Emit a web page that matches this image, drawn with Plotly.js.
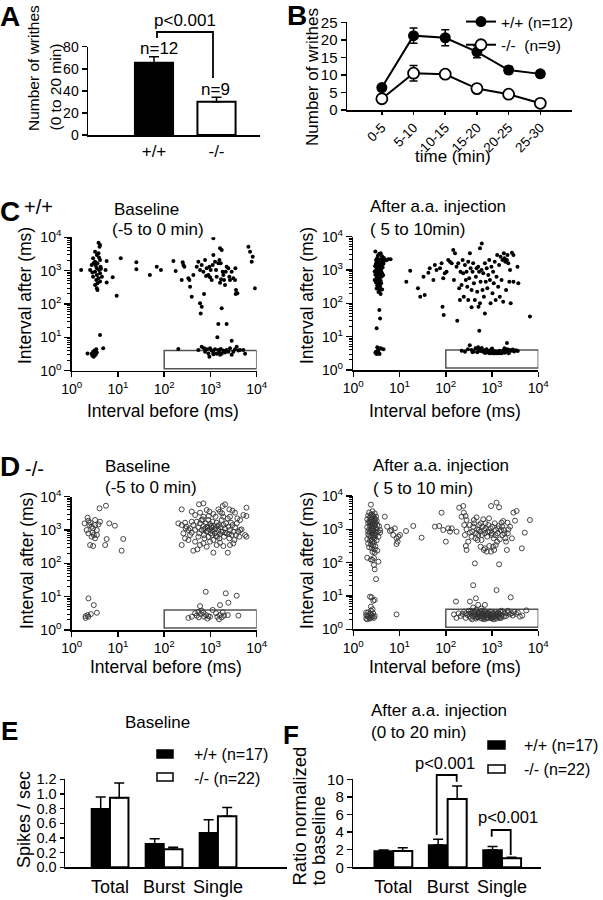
<!DOCTYPE html>
<html><head><meta charset="utf-8">
<script src="https://cdn.plot.ly/plotly-3.0.1.min.js"></script>
<style>html,body{margin:0;padding:0;background:#fff}#plot{width:603px;height:900px}</style>
</head><body><div id="plot"></div>
<script>
// ---------- DATA ----------
// Panel A: writhes 0-20 min
const aGroups = ['+/+', '-/-'];
const aValues = [65.5, 30.2];
const aErr = [5.4, 4.0];
// Panel B: writhes over time
const bCats = ['0-5', '5-10', '10-15', '15-20', '20-25', '25-30'];
const bWT = [6.4, 21.2, 20.6, 16.6, 11.4, 10.3];
const bWTerr = [0.8, 2.2, 2.3, 1.7, 1.0, 0.8];
const bKO = [3.2, 10.5, 10.2, 6.1, 4.5, 1.9];
const bKOerr = [0.5, 2.2, 0.5, 0.8, 0.6, 0.5];
// Panel C: +/+ interval plots (interval before, interval after) in ms
const cBasePts = [[3.8,6900],[4.1,5900],[4.0,5250],[3.2,3700],[3.8,3300],[3.5,2950],[2.9,2350],[4.1,2090],[3.2,1860],[3.6,1660],[2.7,1480],[4.2,1320],[3.5,1175],[2.5,1050],[3.9,1050],[3.2,930],[4.1,830],[3.5,740],[2.9,660],[3.8,590],[3.4,525],[4.1,470],[3.6,420],[3.2,370],[3.5,295],[3.6,263],[1.6,1050],[5.7,1950],[5.4,1050],[4.5,660],[7.7,630],[5.7,440],[9.4,178],[11.5,2340],[25,1780],[25,1100],[49,740],[69,1320],[85,1050],[158,1950],[177,980],[3.0,1700],[3.9,2500],[3.3,1400],[4.3,1150],[2.8,880],
[333,589],[362,331],[394,166],[350,525],[427,741],[505,1318],[548,1862],[595,1047],[647,1479],[703,933],[727,200],[764,2089],[830,1175],[902,741],[980,631],[948,1318],[1012,1047],[1064,525],[1156,2951],[1119,1479],[1256,1862],[1321,1047],[1365,661],[1483,1660],[1560,2089],[1612,4677],[1667,1660],[1750,4169],[1841,933],[1901,741],[1967,525],[2066,372],[2138,933],[2244,1318],[2438,1175],[2564,661],[2649,525],[2878,933],[3126,589],[3404,525],[3573,263],[3819,210],[3459,1175],[1694,550],[1612,437],[803,692],[1156,9330],[6607,5248],[7177,3715],[8199,2630],[7798,1862],[9204,295],[3515,200],[251,1778],[273,1318],[239,525],[260,1479],
[595,105],[647,83],[615,52],[1750,74],[1480,25],[2240,25],[1410,10],[2880,7.9],
[202,4.5],[548,4.2],[647,5.2],[764,3.7],[830,4.4],[902,3.3],[980,4.7],[1064,4.0],[1156,3.5],[1256,4.4],[1365,3.2],[1483,4.2],[1560,3.7],[1667,4.5],[1750,3.2],[1901,4.0],[2066,3.5],[2244,4.2],[2438,3.7],[2649,4.7],[2878,3.0],[3126,3.7],[3404,4.4],[3698,5.2],[4016,4.0],[4363,4.2],[5150,4.2],[5598,3.2],[948,2.6],[1156,3.1],[1612,3.0],[727,4.7],
[2.2,3.3],[2.7,3.2],[2.9,3.7],[3.1,4.0],[3.2,3.3],[3.3,3.0],[3.5,3.5],[2.8,2.8],[3.4,4.4],[3.0,2.6],[4.1,11.7],[4.8,4.7]];
const cAfterPts = [[3.0,3600],[3.6,3000],[4.2,2600],[3.3,2300],[3.9,2100],[3.1,2000],[4.4,1900],[3.5,1800],[3.8,1700],[3.2,1650],[4.0,1600],[3.6,1500],[3.4,1450],[4.1,1400],[3.0,1300],[3.7,1250],[4.3,1200],[3.3,1150],[3.9,1100],[3.5,1050],[3.1,1000],[4.0,950],[3.6,900],[3.3,850],[4.2,800],[3.8,760],[3.0,720],[3.5,680],[4.1,640],[3.2,600],[3.7,560],[3.4,520],[3.9,480],[3.6,450],[3.1,420],[4.0,400],[3.5,380],[3.3,350],[3.8,320],[3.6,300],[3.2,280],[4.2,260],[3.7,240],[3.5,220],[3.9,190],[3.4,1750],[4.5,1550],[3.0,1350],[3.9,3200],[4.6,2300],[2.9,900],[4.4,700],[2.9,500],[4.3,2000],[3.4,2700],[3.8,1350],[3.2,800],[4.0,1200],[3.6,650],[3.1,1550],
[5.7,2090],[6.4,2090],[4.5,1780],[5.2,1950],[3.65,63],[3.8,35],[3.2,17.8],
[3.0,3.3],[3.2,3.0],[3.3,3.6],[3.5,4.0],[3.6,3.2],[3.8,4.5],[3.4,3.8],[3.1,3.5],[4.0,4.4],[4.5,4.2],[3.7,3.0],[3.3,4.8],
[14,447],[17,950],[25,282],[28,158],[35,178],[33,631],[42,832],[45,1122],[54,501],[58,1413],[63,1000],[75,1122],[81,1585],[88,562],[85,79],[90,45],[95,794],[104,891],[113,2000],[123,1778],[134,1585],[145,3981],[150,501],[158,3162],[171,1259],[177,30],[186,1585],[195,282],[202,126],[208,891],[219,355],[231,2000],[238,794],[245,158],[259,1413],[271,501],[281,891],[291,316],[306,1778],[306,126],[321,562],[332,3162],[344,1122],[361,251],[361,76],[379,891],[391,1585],[405,398],[425,126],[447,631],[462,1122],[478,224],[501,1259],[510,79],[526,891],[548,4467],[548,100],[564,447],[593,1000],[600,6300],[622,251],[646,794],[666,158],[700,1585],[700,50],[732,447],[766,1122],[790,282],[829,708],[870,2000],[900,501],[930,100],[970,1259],[1020,200],[1055,891],[1090,398],[1140,1778],[1200,126],[1250,631],[1290,2818],[1355,316],[1420,1413],[1470,158],[1530,2512],[1605,501],[1680,2000],[1740,112],[1800,3162],[1860,2239],[1940,1778],[2010,251],[2090,2000],[2160,2818],[2250,1585],[2360,447],[2450,1000],[2530,100],[2690,3311],[2900,447],[3540,1259],[3700,398],[2900,2818],[6600,40],[530,15],
[220,3.8],[260,3.5],[300,4.2],[330,5.5],[360,4.0],[400,3.6],[440,4.5],[480,3.4],[520,4.0],[560,3.7],[600,4.6],[640,3.5],[680,3.9],[720,3.3],[760,4.2],[800,3.6],[840,3.4],[880,3.8],[920,3.3],[960,4.1],[1000,3.5],[1040,3.3],[1080,3.7],[1120,3.4],[1160,3.2],[1200,3.6],[1250,3.3],[1300,3.5],[1350,3.4],[1400,3.2],[1450,3.8],[1500,3.3],[1560,3.6],[1620,3.2],[1700,3.5],[1780,3.9],[1860,4.5],[1950,3.6],[2050,3.8],[2150,4.2],[2250,3.5],[2400,4.0],[2600,3.8],[2800,4.1],[3000,3.6],[3300,3.9],[3600,3.7],[900,3.2],[1100,3.2],[1300,3.3],[700,3.3],[500,4.8],[380,3.4],[2100,6.5],[1000,4.4],[850,3.25],[950,3.4],[1050,3.2],[1150,3.5],[1250,3.2],[1600,3.4],[1900,3.3],[2300,3.2],[750,3.5],[1450,3.25]];
// Panel D: -/- interval plots
const dBasePts = [[2.2,2344],[2.3,1905],[2.5,1660],[2.4,1413],[2.7,1259],[2.9,1122],[3.2,1413],[3.5,1000],[3.2,2000],[3.8,1479],[2.8,832],[2.3,794],[3.0,708],[3.5,708],[2.7,631],[3.2,562],[2.5,355],[2.9,331],[4.0,4467],[5.5,5370],[6.5,1585],[8.6,1349],[5.7,537],[5.3,355],[13,537],[12,240],[2.1,1000],[4.1,1778],[1.9,1585],
[2.3,8.9],[3.0,5.6],[3.5,3.3],[2.2,2.8],[2.3,2.5],[2.0,2.6],[2.6,3.0],[2.0,2.3],
[239,4169],[566,5888],[703,6310],[1841,5248],[2066,5888],[1483,4169],[830,3981],[948,3548],[6000,4677],[3000,3802],[3400,3311],[2560,4169],[394,3548],[466,2818],[595,3311],[703,2512],[1156,3020],[1612,3548],[1901,2512],[2649,2512],[3819,2239],[4363,1995],[5150,2818],[6000,2630],
[202,1585],[239,1413],[282,1660],[306,1259],[333,1000],[362,1122],[394,832],[427,1413],[466,1000],[505,1778],[548,1202],[575,794],[595,1585],[647,1000],[680,2089],[703,1318],[727,708],[764,1122],[803,1585],[830,891],[860,1259],[902,1995],[902,631],[948,1047],[980,1514],[1012,794],[1064,1202],[1100,1778],[1119,933],[1156,501],[1190,1318],[1256,794],[1290,1122],[1365,1660],[1413,631],[1483,1000],[1530,1413],[1612,759],[1667,1202],[1750,1995],[1841,891],[1901,1413],[1967,631],[2066,1122],[2180,1585],[2244,794],[2370,2239],[2438,1259],[2564,562],[2649,1000],[2780,1660],[2878,708],[3000,1413],[3126,891],[3300,501],[3404,1202],[3573,708],[3698,1585],[4016,891],[4200,631],[4700,1047],[5598,708],[6000,631],[4363,1000],
[466,447],[427,240],[522,263],[595,355],[548,631],[703,398],[830,316],[980,447],[1156,209],[1365,355],[1612,417],[1901,331],[2370,209],[2649,355],[3126,398],[239,355],[260,794],[282,562],[333,501],[362,708],[394,1778],[290,1122],
[727,1047],[860,955],[1030,1318],[1240,1047],[1413,1318],[1694,891],[2100,832],[2480,759],[745,562],[1321,661],[1560,562],[920,2630],[1290,2512],[1790,3162],[1090,708],[640,1995],
[790,14],[595,5.2],[2140,12.6],[2440,6.6],[3700,10.7],[1612,5.6],[333,2.3],[394,2.5],[466,3.2],[505,2.7],[548,3.5],[615,3.0],[647,3.8],[703,3.3],[727,2.5],[803,2.8],[860,2.2],[902,2.6],[1119,4.0],[1321,3.2],[1413,2.5],[1530,2.1],[1612,2.8],[1750,2.4],[1841,3.4],[1967,2.7],[2370,2.8],[4016,2.7],[560,2.4],[980,2.5]];
const dAfterPts = [[2.4,5500],[2.6,3500],[2.2,3200],[2.9,3000],[2.5,2800],[2.1,2600],[2.7,2500],[3.1,2400],[2.3,2300],[2.6,2200],[2.9,2100],[2.0,2000],[2.4,1950],[2.8,1900],[3.2,1800],[2.2,1750],[2.5,1700],[2.7,1650],[3.0,1600],[2.1,1550],[2.4,1500],[2.6,1450],[2.9,1400],[3.3,1350],[2.3,1300],[2.5,1250],[2.8,1200],[2.0,1150],[2.6,1100],[3.1,1050],[2.2,1000],[2.4,960],[2.7,920],[2.9,880],[3.4,850],[2.3,820],[2.5,780],[2.8,750],[2.1,720],[2.6,690],[3.0,660],[2.2,630],[2.4,600],[2.7,570],[2.9,540],[2.0,510],[2.5,490],[3.2,470],[2.3,450],[2.6,420],[2.8,400],[2.1,380],[2.4,350],[2.7,330],[3.0,310],[2.2,290],[2.5,270],[2.9,250],[3.3,230],[2.6,210],[2.0,140],[2.4,125],[2.7,1050],[2.9,1300],[2.3,1600],[2.5,900],[2.8,650],[2.1,880],[3.1,780],[3.5,600],[3.6,1250],[3.8,950],[2.4,2650],[3.0,2000],
[3.8,794],[4.8,2399],[5.4,1202],[6.2,891],[6.7,955],[7.3,676],[7.9,1072],[8.6,537],[9.1,427],[9.4,603],[8.6,363],[10.2,676],[13.8,891],[19.8,1259],[30,562],
[2.9,200],[2.8,138],[2.6,120],[3.5,107],[2.8,85],[2.9,63],[3.1,32],
[2.3,9.5],[2.5,9.1],[2.7,7.2],[2.9,7.6],[2.4,4.8],[2.6,4.0],[2.1,3.2],[2.3,2.9],[1.9,2.7],[2.5,2.7],[2.7,3.0],[2.1,2.4],[2.3,2.1],[1.9,2.1],[2.6,2.4],[2.9,2.5],[2.0,2.5],[2.4,3.6],[1.9,3.2],[8.6,2.8],[2.2,2.2],[2.8,2.2],[2.0,2.0],[2.5,2.3],
[81,3162],[58,1202],[72,1259],[88,955],[100,427],[113,1072],[123,851],[134,1072],[171,851],[195,4467],[238,5012],[219,2399],[245,3162],[268,2512],[281,1905],[250,1349],[281,1000],[259,676],[271,316],[281,240],[306,427],[332,794],[361,603],[391,1202],[405,1905],[425,95],[440,537],[462,2291],[478,1000],[501,676],[526,1349],[548,851],[564,302],[593,478],[622,1202],[646,2000],[666,240],[700,759],[732,1072],[766,214],[790,603],[829,1349],[860,2138],[870,316],[900,851],[953,5012],[970,676],[1020,1202],[1055,302],[1090,537],[1140,1514],[1200,955],[1250,6310],[1290,427],[1355,1072],[1420,4571],[1470,501],[1420,89],[1605,1585],[1680,676],[1740,1778],[1800,955],[1940,537],[2090,240],[2160,1585],[2250,1000],[2900,3162],[3140,1819],[3400,3548],[4400,269],[5100,794],[6600,1905],
[332,1349],[372,851],[410,1514],[447,759],[486,478],[517,955],[575,1514],[608,676],[680,955],[720,1514],[805,851],[930,1072],[990,759],[1110,240],[1190,661],[1310,759],[1400,1259],[1550,955],[1660,1202],[1850,759],[2010,427],[2190,759],[2450,1202],[2690,537],[700,270],[950,214],[1200,339],
[391,21],[447,8.5],[1250,15],[501,5.4],[700,5.4],[2530,9.1],[332,6.8],[391,4.5],[166,6.8],
[150,2.8],[170,2.2],[190,3.0],[210,2.5],[230,2.9],[250,3.4],[270,2.2],[290,2.7],[310,3.6],[330,2.4],[350,3.0],[370,2.0],[390,2.5],[410,3.2],[430,2.8],[450,2.1],[470,2.6],[490,3.1],[510,2.3],[530,2.9],[550,3.4],[570,2.2],[590,2.7],[610,3.6],[630,2.4],[650,3.0],[670,2.0],[690,2.5],[710,3.2],[730,2.8],[750,2.1],[780,2.6],[810,3.1],[840,2.3],[870,2.9],[900,3.4],[930,2.2],[960,2.7],[990,3.3],[1020,2.4],[1060,3.0],[1100,2.0],[1140,2.5],[1180,3.2],[1220,2.8],[1260,2.1],[1300,2.6],[1350,3.1],[1400,2.3],[1450,2.9],[1500,3.4],[1560,2.2],[1620,2.7],[1700,3.3],[1800,2.4],[1900,3.0],[2000,2.5],[2200,3.2],[2400,2.8],[2600,3.0],[2800,2.6],[3000,3.3],[3300,2.9],[3600,3.2],[4000,2.4],[4500,2.6],
[320,2.9],[380,3.3],[440,2.4],[500,2.8],[560,2.5],[620,3.0],[680,2.3],[740,2.9],[800,2.2],[860,2.7],[920,2.4],[980,2.1],[1040,2.8],[1120,2.3],[1200,2.6],[1280,2.9],[1380,2.5],[1480,2.2],[600,2.1],[700,3.5],[800,3.0],[900,2.5],[1000,2.2],[270,3.0],[350,2.2],[420,3.5],[480,2.3],[540,3.0],[450,3.8],[580,4.2],[350,3.6],[1600,3.6],[2200,3.6],[5500,3.7]];
// Panel E: baseline firing (spikes/sec)
const efCats = ['Total', 'Burst', 'Single'];
const eWT = [0.80, 0.32, 0.47];
const eWTerr = [0.16, 0.07, 0.18];
const eKO = [0.95, 0.245, 0.695];
const eKOerr = [0.20, 0.03, 0.12];
// Panel F: ratio normalized to baseline
const fWT = [1.85, 2.53, 1.97];
const fWTerr = [0.12, 0.65, 0.38];
const fKO = [1.85, 7.76, 1.02];
const fKOerr = [0.38, 1.48, 0.12];
const logTickVals = [1, 10, 100, 1000, 10000];
const logTickText = ['10<sup>0</sup>', '10<sup>1</sup>', '10<sup>2</sup>', '10<sup>3</sup>', '10<sup>4</sup>'];

// ---------- LAYOUT HELPERS ----------
const W = 603, H = 900;
const X = v => v / W;
const Y = v => 1 - v / H;
const minorVals = [];
for (const d of [1, 10, 100, 1000]) for (let m = 2; m <= 9; m++) minorVals.push(d * m);

const base = {showline: true, linecolor: 'black', linewidth: 1.5, ticks: 'outside', ticklen: 5,
  tickwidth: 1.5, tickcolor: 'black', showgrid: false, zeroline: false, fixedrange: true,
  tickfont: {size: 14, color: 'black'}};
function xAx(x0, x1, anchor, extra) { return Object.assign({}, base, {domain: [X(x0), X(x1)], anchor}, extra); }
function yAx(y0, y1, anchor, extra) { return Object.assign({}, base, {domain: [Y(y1), Y(y0)], anchor}, extra); }
const logX = {type: 'log', range: [0, 4], tickmode: 'array', tickvals: logTickVals, ticktext: logTickText, ticklen: 5};
const logY = {type: 'log', range: [0, 4], tickmode: 'array', tickvals: logTickVals, ticktext: logTickText, ticklen: 6,
  minor: {tickmode: 'array', tickvals: minorVals, ticks: 'outside', ticklen: 3, tickwidth: 1, tickcolor: 'black'}};

function ann(text, x, y, o) {
  o = o || {};
  return {text, x: X(x), y: Y(y), xref: 'paper', yref: 'paper', showarrow: false,
    xanchor: o.xa || 'center', yanchor: o.ya || 'middle', textangle: o.rot || 0,
    font: {size: o.size || 17, color: 'black'}};
}
function pathShape(pts, w) {
  const d = pts.map((p, i) => (i ? 'L' : 'M') + X(p[0]).toFixed(5) + ',' + Y(p[1]).toFixed(5)).join(' ');
  return {type: 'path', path: d, xref: 'paper', yref: 'paper', line: {color: 'black', width: w || 1.8}};
}
function rectPx(x0, y0, x1, y1, fill) {
  return {type: 'rect', xref: 'paper', yref: 'paper', x0: X(x0), x1: X(x1), y0: Y(y1), y1: Y(y0),
    fillcolor: fill, line: {color: 'black', width: 1.5}};
}
function burstBox(xr, yr) {
  return {type: 'rect', xref: xr, yref: yr, x0: 100, x1: 10000, y0: 1.15, y1: 4.0,
    line: {color: '#555', width: 1.5}, fillcolor: 'rgba(0,0,0,0)', layer: 'below'};
}

// ---------- TRACES ----------
const errStyle = {color: 'black', thickness: 1.5, width: 5};
const traces = [];
traces.push({type: 'bar', x: aGroups, y: aValues, xaxis: 'x', yaxis: 'y', width: 0.61, showlegend: false,
  marker: {color: ['black', 'white'], line: {color: 'black', width: 2}},
  error_y: Object.assign({type: 'data', array: aErr, arrayminus: [0, 0], symmetric: false}, errStyle)});
traces.push({type: 'scatter', mode: 'lines+markers', x: bCats, y: bWT, xaxis: 'x2', yaxis: 'y2', name: '+/+ (n=12)',
  line: {color: 'black', width: 2}, marker: {color: 'black', size: 11, symbol: 'circle'},
  error_y: Object.assign({type: 'data', array: bWTerr}, errStyle, {width: 4})});
traces.push({type: 'scatter', mode: 'lines+markers', x: bCats, y: bKO, xaxis: 'x2', yaxis: 'y2', name: '-/-\u00a0\u00a0(n=9)',
  line: {color: 'black', width: 2}, marker: {color: 'white', size: 11, symbol: 'circle', line: {color: 'black', width: 1.8}},
  error_y: Object.assign({type: 'data', array: bKOerr}, errStyle, {width: 4})});
const dotC = {color: 'black', size: 4};
const dotD = {color: '#333', size: 5, symbol: 'circle-open', line: {width: 0.9}};
[[cBasePts, 'x3', 'y3', dotC], [cAfterPts, 'x4', 'y4', dotC], [dBasePts, 'x5', 'y5', dotD], [dAfterPts, 'x6', 'y6', dotD]]
  .forEach(([pts, xa, ya, mk]) => traces.push({type: 'scatter', mode: 'markers', x: pts.map(p => p[0]), y: pts.map(p => p[1]),
    xaxis: xa, yaxis: ya, marker: mk, showlegend: false, hoverinfo: 'x+y'}));
function barPair(wt, wtErr, ko, koErr, xa, ya, w) {
  traces.push({type: 'bar', x: efCats, y: wt, xaxis: xa, yaxis: ya, width: w, offset: -w, showlegend: false,
    marker: {color: 'black', line: {color: 'black', width: 1.5}},
    error_y: Object.assign({type: 'data', array: wtErr, arrayminus: [0, 0, 0], symmetric: false}, errStyle)});
  traces.push({type: 'bar', x: efCats, y: ko, xaxis: xa, yaxis: ya, width: w, offset: 0, showlegend: false,
    marker: {color: 'white', line: {color: 'black', width: 2}},
    error_y: Object.assign({type: 'data', array: koErr, arrayminus: [0, 0, 0], symmetric: false}, errStyle)});
}
barPair(eWT, eWTerr, eKO, eKOerr, 'x7', 'y7', 0.343);
barPair(fWT, fWTerr, fKO, fKOerr, 'x8', 'y8', 0.35);

// ---------- LAYOUT ----------
const layout = {
  width: W, height: H, margin: {l: 0, r: 0, t: 0, b: 0},
  paper_bgcolor: 'white', plot_bgcolor: 'rgba(0,0,0,0)',
  font: {family: 'Liberation Sans, Arial, sans-serif', color: 'black', size: 14},
  barmode: 'overlay', hovermode: false,
  showlegend: true,
  legend: {x: X(461), y: Y(5), xanchor: 'left', yanchor: 'top', font: {size: 15.5},
    bgcolor: 'rgba(0,0,0,0)', tracegroupgap: 0, itemclick: false, itemdoubleclick: false},
  xaxis: xAx(88, 260, 'y', {type: 'category', range: [-1.056, 1.696], ticks: '', tickfont: {size: 17, color: 'black'}}),
  yaxis: yAx(46.7, 135, 'x', {range: [0, 80], dtick: 20}),
  xaxis2: xAx(347, 572, 'y2', {type: 'category', range: [-1.1, 6.0], tickangle: -45, ticklen: 3, tickfont: {size: 13.5, color: 'black'}}),
  yaxis2: yAx(22.3, 110, 'x2', {range: [0, 25], dtick: 5, tickfont: {size: 15, color: 'black'}}),
  xaxis3: xAx(71.7, 256.7, 'y3', logX),
  yaxis3: yAx(237.3, 370.7, 'x3', logY),
  xaxis4: xAx(353.3, 538.3, 'y4', logX),
  yaxis4: yAx(236.7, 370, 'x4', logY),
  xaxis5: xAx(71.7, 256.7, 'y5', logX),
  yaxis5: yAx(496.7, 630, 'x5', logY),
  xaxis6: xAx(353.3, 538.3, 'y6', logX),
  yaxis6: yAx(496, 629.3, 'x6', logY),
  xaxis7: xAx(65, 287, 'y7', {type: 'category', range: [-0.833, 3.28], ticks: '', tickfont: {size: 18, color: 'black'}, ticklabelstandoff: 3}),
  yaxis7: yAx(779.3, 867.3, 'x7', {range: [0, 1.2], dtick: 0.2, tickformat: '.1f', ticklen: 4, tickfont: {size: 14.5, color: 'black'}}),
  xaxis8: xAx(353.3, 541, 'y8', {type: 'category', range: [-0.734, 2.716], ticks: '', tickfont: {size: 18, color: 'black'}, ticklabelstandoff: 3}),
  yaxis8: yAx(779.3, 867.3, 'x8', {range: [0, 10], dtick: 2, tickfont: {size: 15, color: 'black'}}),
  shapes: [
    pathShape([[157, 38], [157, 32], [213, 32], [213, 78]]),
    burstBox('x3', 'y3'), burstBox('x4', 'y4'), burstBox('x5', 'y5'), burstBox('x6', 'y6'),
    rectPx(157, 750, 173, 758, 'black'), rectPx(157, 773, 173, 781, 'white'),
    rectPx(488, 741, 505, 749, 'black'), rectPx(488, 765, 505, 773, 'white'),
    pathShape([[436.7, 835], [436.7, 775], [456.7, 775], [456.7, 781.7]]),
    pathShape([[491.7, 836.7], [491.7, 830], [510.7, 830], [510.7, 855]])
  ],
  annotations: [
    ann('<b>A</b>', 10, 17, {size: 28}),
    ann('<b>B</b>', 297, 15, {size: 28}),
    ann('<b>C</b>', 10, 212, {size: 28}),
    ann('+/+', 22, 207, {xa: 'left', size: 20}),
    ann('<b>D</b>', 10, 466, {size: 28}),
    ann('-/-', 23, 469, {xa: 'left', size: 20}),
    ann('<b>E</b>', 9, 731, {size: 26}),
    ann('<b>F</b>', 291, 735, {size: 26}),
    // A
    ann('Number of writhes', 33, 133, {rot: -90, ya: 'bottom', size: 15.5}),
    ann('(0 to 20 min)', 55, 133, {rot: -90, ya: 'bottom', size: 15.5}),
    ann('n=12', 159, 49, {size: 17}),
    ann('n=9', 215, 89, {size: 17}),
    ann('p<0.001', 185, 21, {size: 17}),
    // B
    ann('Number of writhes', 312, 77, {rot: -90, size: 17}),
    ann('time (min)', 453, 157, {size: 17}),
    // C
    ann('Baseline', 112, 209, {xa: 'left', size: 17}),
    ann('(-5 to 0 min)', 110, 229, {xa: 'left', size: 17}),
    ann('After a.a. injection', 368, 207, {xa: 'left', size: 17}),
    ann('( 5 to 10min)', 368, 230, {xa: 'left', size: 17}),
    ann('Interval after (ms)', 25, 296, {rot: -90, size: 17.5}),
    ann('Interval after (ms)', 307, 296, {rot: -90, size: 17.5}),
    ann('Interval before (ms)', 163, 411, {size: 17.5}),
    ann('Interval before (ms)', 445, 411, {size: 17.5}),
    // D
    ann('Baseline', 103, 466, {xa: 'left', size: 17}),
    ann('(-5 to 0 min)', 103, 487, {xa: 'left', size: 17}),
    ann('After a.a. injection', 371, 465, {xa: 'left', size: 17}),
    ann('( 5 to 10 min)', 371, 488, {xa: 'left', size: 17}),
    ann('Interval after (ms)', 27, 561, {rot: -90, size: 17.5}),
    ann('Interval after (ms)', 307, 561, {rot: -90, size: 17.5}),
    ann('Interval before (ms)', 166, 667, {size: 17.5}),
    ann('Interval before (ms)', 445, 667, {size: 17.5}),
    // E
    ann('Baseline', 157, 722, {size: 17}),
    ann('Spikes / sec', 24, 820, {rot: -90, size: 18}),
    ann('+/+ (n=17)', 192, 754, {xa: 'left', size: 16}),
    ann('-/- (n=22)', 192, 778, {xa: 'left', size: 16}),
    // F
    ann('After a.a. injection', 369, 710, {xa: 'left', size: 17}),
    ann('(0 to 20 min)', 369, 732, {xa: 'left', size: 17}),
    ann('Ratio normalized', 299, 888, {rot: -90, ya: 'bottom', size: 18.5}),
    ann('to baseline', 318, 888, {rot: -90, ya: 'bottom', size: 18.5}),
    ann('+/+ (n=17)', 522, 745, {xa: 'left', size: 16}),
    ann('-/- (n=22)', 522, 769, {xa: 'left', size: 16}),
    ann('p<0.001', 445, 763, {size: 16.5}),
    ann('p<0.001', 508, 817, {size: 16.5})
  ]
};

Plotly.newPlot('plot', traces, layout, {staticPlot: true, displayModeBar: false});
</script>
</body></html>
